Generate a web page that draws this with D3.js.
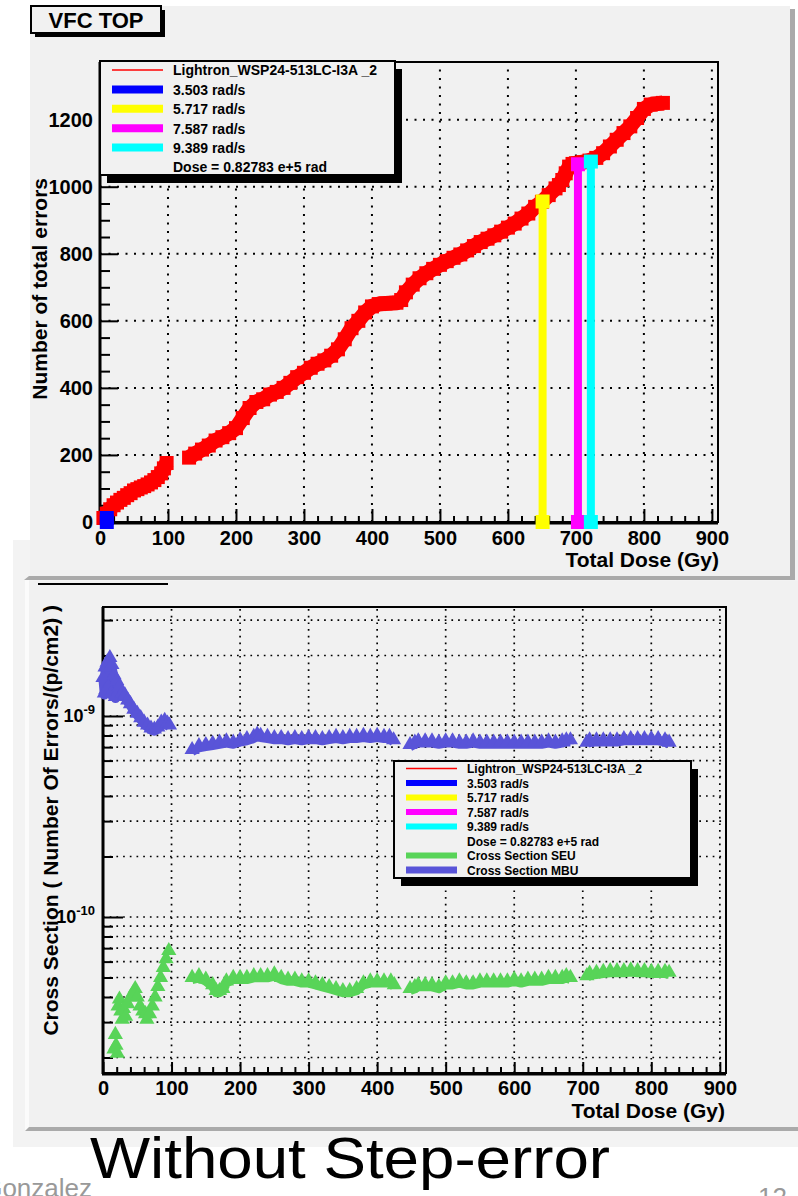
<!DOCTYPE html>
<html><head><meta charset="utf-8">
<script src="https://cdn.jsdelivr.net/npm/d3@7"></script>
<style>
body{margin:0;background:#fff;}
svg{display:block;font-family:"Liberation Sans",Arial,Helvetica,sans-serif;}
</style></head><body>
<svg id="c" width="798" height="1196"></svg>
<script>
// ---------------- DATA ----------------
const doseTicks = [0,100,200,300,400,500,600,700,800,900];
const countTicks = [0,200,400,600,800,1000,1200];
const xsTicks = [1e-10, 1e-9];
const xsTickExp = ["-10", "-9"];

// cumulative errors (top panel)
const redDose = [5,10,15,20,25,30,35,40,45,50,55,60,65,70,75,80,85,90,94,98,
  131,140,150,160,170,180,190,200,210,220,230,240,250,260,270,280,290,300,310,320,330,340,350,360,370,380,390,400,410,420,430,436,
  443,450,460,470,480,490,500,510,520,530,540,550,560,570,580,590,600,610,620,630,640,650,660,670,675,680,685,690,695,700,710,720,730,740,750,760,770,780,790,800,810,820,828];
const redErrors = [12,25,38,50,58,66,72,80,86,94,98,103,107,112,118,125,134,145,160,176,
  192,204,216,228,243,253,265,280,310,340,358,366,380,388,400,415,432,445,460,472,482,496,515,545,578,600,625,643,650,652,653,654,
  662,685,708,727,742,755,767,778,788,798,810,823,835,845,855,866,878,890,905,920,940,955,975,995,1005,1020,1040,1060,1068,1070,1073,1078,1086,1100,1120,1140,1160,1180,1205,1232,1245,1248,1250];
const redGapAfter = [98];

// dose-rate markers (top panel)
const rateLabels = ["3.503 rad/s","5.717 rad/s","7.587 rad/s","9.389 rad/s"];
const rateDose = [10, 651, 703, 722];
const rateErrors = [12, 956, 1067, 1075];
const rateColors = ["#0000ff","#ffff00","#ff00ff","#00ffff"];

// cross sections (bottom panel)
const mbuDose = [0,2,3,4,6,8,10,12,13,16,18,20,24,28,32,36,40,45,50,55,60,65,70,75,80,85,90,94,97,
  130,140,150,160,170,180,190,200,210,220,225,230,240,250,260,270,280,290,300,310,320,330,340,350,360,370,380,390,400,410,418,424,
  448,455,460,470,480,490,500,510,520,530,540,550,560,570,580,590,600,610,620,630,640,650,660,670,676,682,
  706,710,720,730,740,750,760,770,780,790,800,810,820,826];
const mbuXS = [1.55e-9,1.3e-9,1.75e-9,1.35e-9,1.85e-9,1.4e-9,1.95e-9,1.3e-9,1.8e-9,1.6e-9,1.25e-9,1.5e-9,1.4e-9,1.3e-9,1.27e-9,1.2e-9,1.15e-9,1.08e-9,1.03e-9,0.98e-9,0.93e-9,0.9e-9,0.87e-9,0.86e-9,0.88e-9,0.93e-9,0.95e-9,0.92e-9,0.9e-9,
  0.68e-9,0.71e-9,0.72e-9,0.73e-9,0.74e-9,0.75e-9,0.74e-9,0.76e-9,0.77e-9,0.79e-9,0.81e-9,0.8e-9,0.79e-9,0.78e-9,0.78e-9,0.77e-9,0.78e-9,0.77e-9,0.78e-9,0.78e-9,0.77e-9,0.78e-9,0.79e-9,0.78e-9,0.79e-9,0.79e-9,0.8e-9,0.79e-9,0.8e-9,0.79e-9,0.79e-9,0.76e-9,
  0.72e-9,0.74e-9,0.75e-9,0.75e-9,0.75e-9,0.74e-9,0.75e-9,0.75e-9,0.74e-9,0.74e-9,0.75e-9,0.74e-9,0.74e-9,0.74e-9,0.74e-9,0.74e-9,0.74e-9,0.74e-9,0.74e-9,0.74e-9,0.74e-9,0.75e-9,0.74e-9,0.75e-9,0.76e-9,0.76e-9,
  0.74e-9,0.76e-9,0.76e-9,0.76e-9,0.76e-9,0.76e-9,0.77e-9,0.77e-9,0.77e-9,0.77e-9,0.77e-9,0.77e-9,0.76e-9,0.74e-9];
const mbuGapAfter = [97, 424, 682];

const seuDose = [16,18,19,21,22,24,26,28,30,33,36,40,44,47,50,54,58,62,64,68,72,76,80,84,88,92,96,
  130,140,150,160,165,170,175,180,190,200,210,220,230,240,250,260,270,280,290,300,310,320,330,340,350,360,370,380,390,400,410,420,425,
  448,455,460,470,480,490,500,510,520,530,540,550,560,570,580,590,600,610,620,630,640,650,660,670,676,682,
  706,710,720,730,740,750,760,770,780,790,800,810,820,826];
const seuXS = [2.2e-11,2.6e-11,2.3e-11,2.1e-11,3.6e-11,3.9e-11,3.4e-11,3.1e-11,3.5e-11,3.2e-11,3.7e-11,4.0e-11,4.2e-11,4.4e-11,4.0e-11,3.6e-11,3.4e-11,3.3e-11,3.1e-11,3.3e-11,3.6e-11,4.0e-11,4.5e-11,5.0e-11,5.6e-11,6.2e-11,6.8e-11,
  5.0e-11,5.1e-11,4.9e-11,4.6e-11,4.3e-11,4.3e-11,4.4e-11,4.8e-11,5.0e-11,5.0e-11,5.0e-11,5.1e-11,5.1e-11,5.1e-11,5.2e-11,5.0e-11,4.9e-11,4.9e-11,4.8e-11,4.8e-11,4.7e-11,4.6e-11,4.5e-11,4.4e-11,4.3e-11,4.3e-11,4.4e-11,4.7e-11,4.8e-11,4.8e-11,4.8e-11,4.8e-11,4.6e-11,
  4.4e-11,4.5e-11,4.6e-11,4.6e-11,4.6e-11,4.5e-11,4.7e-11,4.7e-11,4.8e-11,4.7e-11,4.7e-11,4.8e-11,4.8e-11,4.8e-11,4.8e-11,4.8e-11,4.9e-11,4.8e-11,4.9e-11,4.9e-11,4.9e-11,5.0e-11,5.0e-11,5.0e-11,5.1e-11,5.0e-11,
  5.1e-11,5.25e-11,5.3e-11,5.35e-11,5.4e-11,5.4e-11,5.4e-11,5.45e-11,5.4e-11,5.4e-11,5.35e-11,5.35e-11,5.35e-11,5.3e-11];
const seuGapAfter = [96, 425, 682];

const seriesName = "Lightron_WSP24-513LC-I3A _2";
const doseNote = "Dose = 0.82783 e+5 rad";
const xsLabels = ["Cross Section SEU","Cross Section MBU"];
const xsColors = ["#58d458","#5954d8"];

// ---------------- DRAWING ----------------
const PANEL = "#f1f1f1", SHADOW = "#aaaaaa";
const svg = d3.select("#c");

function segments(xs, ys, gapAfter) {
  const segs = [[]];
  xs.forEach((x,i)=>{
    segs[segs.length-1].push([x, ys[i]]);
    if (gapAfter.includes(x) && i < xs.length-1) segs.push([]);
  });
  return segs;
}

svg.append("rect").attr("x",13).attr("y",540).attr("width",785).attr("height",607).attr("fill","#f3f3f3");
svg.append("rect").attr("x",25).attr("y",580).attr("width",4).attr("height",551).attr("fill","#fbfbfb");

svg.append("rect").attr("x",30).attr("y",6).attr("width",760).attr("height",570).attr("fill",PANEL);
svg.append("polygon").attr("points","790,9 795,9 795,580 24,580 29,576 790,576").attr("fill",SHADOW);
svg.append("rect").attr("x",29).attr("y",581).attr("width",769).attr("height",546).attr("fill",PANEL);
svg.append("polygon").attr("points","25,1131 29,1127 798,1127 798,1131").attr("fill",SHADOW);
svg.append("line").attr("x1",38).attr("x2",168).attr("y1",584).attr("y2",584).attr("stroke","#000").attr("stroke-width",2);

function grid(g, xs, ys, xScale, yScale, dash, sw) {
  const [x0,x1] = xScale.range(), [y0,y1] = yScale.range();
  g.selectAll(null).data(xs).enter().append("line")
    .attr("x1",d=>xScale(d)).attr("x2",d=>xScale(d)).attr("y1",y0).attr("y2",y1)
    .attr("stroke","#000").attr("stroke-width",sw).attr("stroke-dasharray",dash);
  g.selectAll(null).data(ys).enter().append("line")
    .attr("y1",d=>yScale(d)).attr("y2",d=>yScale(d)).attr("x1",x0).attr("x2",x1)
    .attr("stroke","#000").attr("stroke-width",sw).attr("stroke-dasharray",dash);
}
function range(a,b,s){const r=[];for(let v=a;v<=b+1e-9;v+=s)r.push(v);return r;}

// ===== TOP CHART =====
const x1 = d3.scaleLinear().domain([0,909]).range([100,718]);
const y1 = d3.scaleLinear().domain([0,1372]).range([522,62]);
const gT = svg.append("g");
grid(gT, doseTicks.filter(d=>d>0), countTicks.filter(d=>d>0), x1, y1, "2,6.5", 2);

const minorX = range(0,900,20).filter(d=>d%100!==0);
gT.append("g").attr("transform","translate(0,522)")
  .call(d3.axisBottom(x1).tickValues(minorX).tickSize(-6).tickFormat(""))
  .call(g=>g.select(".domain").remove());
gT.append("g").attr("transform","translate(0,522)")
  .call(d3.axisBottom(x1).tickValues(doseTicks).tickSize(-13).tickPadding(9).tickFormat(d3.format("d")))
  .call(g=>g.select(".domain").remove());
const minorY = range(0,1350,50).filter(d=>d%200!==0);
gT.append("g").attr("transform","translate(100,0)")
  .call(d3.axisLeft(y1).tickValues(minorY).tickSize(-10).tickFormat(""))
  .call(g=>g.select(".domain").remove());
gT.append("g").attr("transform","translate(100,0)")
  .call(d3.axisLeft(y1).tickValues(countTicks).tickSize(-18).tickPadding(7).tickFormat(d3.format("d")))
  .call(g=>g.select(".domain").remove());
gT.selectAll(".tick line").attr("stroke","#000").attr("stroke-width",2);
gT.selectAll(".tick text").attr("font-size","20px").attr("font-weight","bold").attr("fill","#000")
  .attr("font-family",'"Liberation Sans",Arial,sans-serif');

gT.append("rect").attr("x",100).attr("y",62).attr("width",618).attr("height",460)
  .attr("fill","none").attr("stroke","#000").attr("stroke-width",2);
gT.append("line").attr("x1",100).attr("x2",100).attr("y1",62).attr("y2",523).attr("stroke","#000").attr("stroke-width",3);
gT.append("line").attr("x1",99).attr("x2",718).attr("y1",523).attr("y2",523).attr("stroke","#000").attr("stroke-width",3);

const sq14 = d3.symbol(d3.symbolSquare, 196)();
const lineT = d3.line().x(d=>x1(d[0])).y(d=>y1(d[1]));
segments(redDose, redErrors, redGapAfter).forEach(seg=>{
  gT.append("path").attr("d",lineT(seg)).attr("fill","none").attr("stroke","#ff0000")
    .attr("stroke-width",15).attr("stroke-linejoin","round");
});
gT.selectAll(null).data(redDose.map((d,i)=>[d,redErrors[i]])).enter().append("path")
  .attr("d",sq14).attr("transform",d=>`translate(${x1(d[0])},${y1(d[1])})`).attr("fill","#ff0000");

rateDose.forEach((d,i)=>{
  gT.append("line").attr("x1",x1(d)).attr("x2",x1(d)).attr("y1",y1(0)).attr("y2",y1(rateErrors[i]))
    .attr("stroke",rateColors[i]).attr("stroke-width",8);
  [0, rateErrors[i]].forEach(v=>{
    gT.append("path").attr("d",sq14).attr("transform",`translate(${x1(d)},${y1(v)})`).attr("fill",rateColors[i]);
  });
});

gT.append("text").attr("x",719).attr("y",567).attr("text-anchor","end")
  .attr("font-size","21px").attr("font-weight","bold").text("Total Dose (Gy)");
gT.append("text").attr("transform","translate(47,178) rotate(-90)").attr("text-anchor","end")
  .attr("font-size","21px").attr("font-weight","bold").text("Number of total errors");

svg.append("rect").attr("x",35).attr("y",10).attr("width",130).attr("height",27).attr("fill","#000");
svg.append("rect").attr("x",31).attr("y",6).attr("width",130).attr("height",27).attr("fill",PANEL).attr("stroke","#000").attr("stroke-width",2);
svg.append("text").attr("x",96).attr("y",28).attr("text-anchor","middle").attr("font-size","22px").attr("font-weight","bold").text("VFC TOP");

function legend(x, y, w, h, rowY0, rowStep, fontSize, entries, barH) {
  const g = svg.append("g");
  g.append("rect").attr("x",x+7).attr("y",y+8).attr("width",w).attr("height",h).attr("fill","#000");
  g.append("rect").attr("x",x).attr("y",y).attr("width",w).attr("height",h).attr("fill",PANEL).attr("stroke","#000").attr("stroke-width",2);
  entries.forEach((e,i)=>{
    const cy = rowY0 + i*rowStep;
    if (e.color) {
      g.append("line").attr("x1",x+12).attr("x2",x+63).attr("y1",cy).attr("y2",cy)
        .attr("stroke",e.color).attr("stroke-width",e.thin?1.6:(e.h||barH));
    }
    g.append("text").attr("x",x+73).attr("y",cy+fontSize*0.38).attr("font-size",fontSize+"px")
      .attr("font-weight","bold").text(e.label);
  });
}
const topEntries = [{label:seriesName,color:"#ff0000",thin:true}]
  .concat(rateLabels.map((l,i)=>({label:l,color:rateColors[i]})))
  .concat([{label:doseNote}]);
legend(100, 61, 295, 114, 70, 19.4, 14, topEntries, 8);

// ===== BOTTOM CHART =====
const x2 = d3.scaleLinear().domain([0,909]).range([103,726]);
const y2 = d3.scaleLog().domain([1.675e-11, 3.485e-9]).range([1073,607]);
const gB = svg.append("g");
const logGrid = [];
[-11,-10,-9].forEach(e=>{for(let m=1;m<=9;m++){const v=m*Math.pow(10,e); if(v>y2.domain()[0]&&v<y2.domain()[1]) logGrid.push(v);}});
grid(gB, doseTicks.filter(d=>d>0), logGrid, x2, y2, "1.7,5", 1.7);

gB.append("g").attr("transform","translate(0,1073)")
  .call(d3.axisBottom(x2).tickValues(minorX).tickSize(-6).tickFormat(""))
  .call(g=>g.select(".domain").remove());
gB.append("g").attr("transform","translate(0,1073)")
  .call(d3.axisBottom(x2).tickValues(doseTicks).tickSize(-11).tickPadding(8).tickFormat(d3.format("d")))
  .call(g=>g.select(".domain").remove());
gB.append("g").attr("transform","translate(103,0)")
  .call(d3.axisLeft(y2).tickValues(logGrid.filter(v=>!xsTicks.some(t=>Math.abs(t-v)/t<1e-6))).tickSize(-10).tickFormat(""))
  .call(g=>g.select(".domain").remove());
const yAxB = gB.append("g").attr("transform","translate(103,0)")
  .call(d3.axisLeft(y2).tickValues(xsTicks).tickSize(-20).tickPadding(8).tickFormat(""))
  .call(g=>g.select(".domain").remove());
gB.selectAll(".tick line").attr("stroke","#000").attr("stroke-width",2);
gB.selectAll(".tick text").attr("font-size","20px").attr("font-weight","bold").attr("fill","#000")
  .attr("font-family",'"Liberation Sans",Arial,sans-serif');
yAxB.selectAll(".tick text").each(function(d,i){
  const t = d3.select(this);
  t.text(null).attr("font-size","18px");
  t.append("tspan").text("10");
  t.append("tspan").attr("dy","-0.6em").attr("font-size","13px").text(xsTickExp[i]);
});

gB.append("rect").attr("x",103).attr("y",607).attr("width",623).attr("height",466)
  .attr("fill","none").attr("stroke","#000").attr("stroke-width",2);
gB.append("line").attr("x1",103).attr("x2",103).attr("y1",607).attr("y2",1074).attr("stroke","#000").attr("stroke-width",3);
gB.append("line").attr("x1",102).attr("x2",726).attr("y1",1074).attr("y2",1074).attr("stroke","#000").attr("stroke-width",3);

const tri = d3.symbol(d3.symbolTriangle, 100)();
const lineB = d3.line().x(d=>x2(d[0])).y(d=>y2(d[1]));
function xsSeries(dose, vals, gaps, color, lineFromSeg) {
  segments(dose, vals, gaps).forEach((seg,k)=>{
    if (k < lineFromSeg) return;
    gB.append("path").attr("d",lineB(seg)).attr("fill","none").attr("stroke",color)
      .attr("stroke-width",9).attr("stroke-linejoin","round").attr("transform","translate(0,2)");
  });
  gB.selectAll(null).data(dose.map((d,i)=>[d,vals[i]])).enter().append("path")
    .attr("d",tri).attr("transform",d=>`translate(${x2(d[0])},${y2(d[1])})`).attr("fill",color);
}
xsSeries(seuDose, seuXS, seuGapAfter, xsColors[0], 1);
xsSeries(mbuDose, mbuXS, mbuGapAfter, xsColors[1], 0);

gB.append("text").attr("x",725).attr("y",1118).attr("text-anchor","end")
  .attr("font-size","21px").attr("font-weight","bold").text("Total Dose (Gy)");
gB.append("text").attr("transform","translate(58,605) rotate(-90)").attr("text-anchor","end")
  .attr("font-size","21px").attr("font-weight","bold").text("Cross Section ( Number Of Errors/(p/cm2) )");

const botEntries = topEntries.concat([{label:xsLabels[0],color:xsColors[0],h:6},{label:xsLabels[1],color:xsColors[1],h:7}]);
legend(394, 761, 297, 117, 768.5, 14.5, 12, botEntries, 6);

svg.append("text").attr("x",90).attr("y",1178).attr("font-size","58px")
  .attr("textLength",520).attr("lengthAdjust","spacingAndGlyphs").attr("fill","#000").text("Without Step-error");
svg.append("text").attr("x",92).attr("y",1197).attr("text-anchor","end").attr("font-size","26px").attr("fill","#999").text("Gonzalez");
svg.append("text").attr("x",758).attr("y",1206).attr("font-size","26px").attr("fill","#999").text("12");
</script>
</body></html>
